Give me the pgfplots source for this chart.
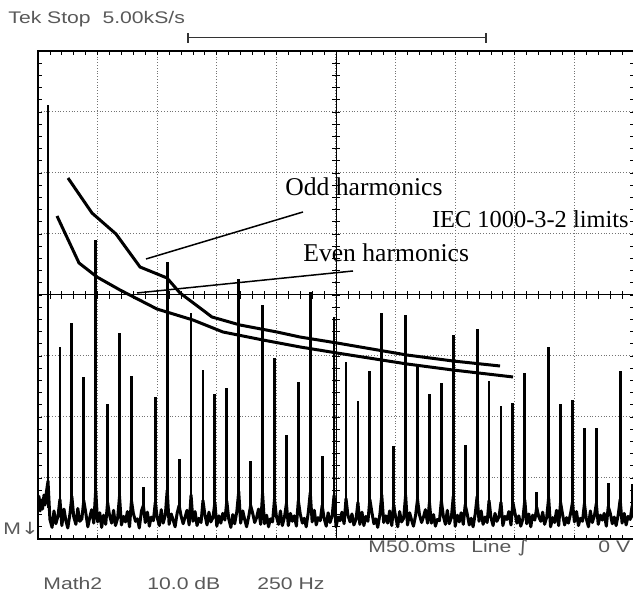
\documentclass[border=0pt]{standalone}
\usepackage{pgfplots}
\pgfplotsset{compat=1.18}
\usepackage{graphicx}
\usepackage{fontspec}
\setmainfont{Liberation Serif}
\newfontfamily\teksf{Liberation Sans}
\newfontfamily\djv{DejaVu Sans}
\newcommand{\tek}[1]{{\teksf\fontsize{8.4}{10}\selectfont\color{black!65}\scalebox{1.26}[1]{#1}}}
\begin{document}
\begin{tikzpicture}
\begin{axis}[
  at={(0pt,0pt)}, anchor=south west,
  scale only axis, width=298pt, height=244pt,
  xmin=8, xmax=2508, ymin=0, ymax=80,
  xtick={8,258,...,2508}, ytick={0,10,...,80},
  minor x tick num=4, minor y tick num=4,
  xticklabels={}, yticklabels={},
  tick align=inside, tick pos=both,
  major tick length=2pt, minor tick length=2pt,
  tick style={black, line width=0.4pt},
  grid=major,
  major grid style={densely dotted, black!55, line width=0.5pt},
  axis line style={black, line width=0.6pt},
  unbounded coords=jump,
]
% odd-harmonic limit curve
\addplot[black, line width=1.5pt] table {
133.8 59.18
234.5 53.44
335.2 50.00
435.9 44.59
549.1 42.79
603.7 40.33
737.9 36.39
855.4 35.08
1010.6 33.93
1107.1 33.11
1262.3 32.13
1358.8 31.48
1555.9 30.16
1748.9 29.18
1946.1 28.36
};
% even-harmonic limit curve
\addplot[black, line width=1.5pt] table {
87.7 52.95
180.0 45.25
255.5 42.95
352.0 40.82
507.2 37.70
658.2 35.90
784.0 33.93
951.8 32.62
1107.1 31.48
1262.3 30.49
1555.9 28.69
1748.9 27.70
2000.6 26.56
};
% noise floor of the spectrum
\addplot[black, line width=1.5pt, line join=round] table {
8 5.5
12 7.0
17 4.6
22 6.4
27 4.9
33 7.2
38 5.6
43 7.6
50 9.5
58 3.2
67 1.9
75 4.6
83 2.5
92 3.8
100 6.5
108 2.2
117 4.9
125 3.0
133 1.8
142 4.1
150 7
158 3.6
167 2.4
175 5.0
183 2.9
192 3.3
200 6.3
208 4.4
217 2.0
225 3.5
233 4.8
242 2.6
250 8
258 2.8
267 4.3
275 1.9
283 3.9
292 2.4
300 6
308 3.9
317 2.6
325 4.7
333 2.2
342 3.4
350 7
358 2.3
367 3.7
375 2.8
383 4.5
392 2.0
400 6.3
408 4.2
417 2.9
425 3.3
433 1.8
442 4.6
450 5.5
458 2.7
467 4.4
475 2.1
483 3.6
492 3.0
500 6
508 3.5
517 2.2
525 4.8
533 2.6
542 3.9
550 8
558 2.4
567 4.1
575 3.1
583 2.0
592 4.3
600 5.5
608 3.8
617 2.5
625 3.6
633 4.7
642 2.3
650 7.2
658 2.9
667 4.5
675 2.2
683 3.4
692 2.7
700 6.3
708 4.0
717 2.3
725 4.4
733 2.8
742 3.5
750 6
758 2.1
767 3.8
775 2.6
783 4.2
792 3.1
800 6.2
808 3.3
817 1.9
825 4.0
833 2.5
842 4.5
850 7.8
858 2.6
867 4.6
875 3.2
883 2.0
892 3.7
900 5.5
908 4.3
917 2.7
925 3.5
933 4.9
942 2.4
950 7.5
958 2.5
967 3.9
975 2.0
983 3.3
992 2.8
1000 6.5
1008 3.7
1017 2.4
1025 4.6
1033 2.2
1042 3.6
1050 5.8
1058 2.2
1067 4.2
1075 2.9
1083 3.8
1092 2.1
1100 6.3
1108 4.1
1117 2.6
1125 3.4
1133 2.0
1142 4.4
1150 7.6
1158 2.8
1167 4.7
1175 2.3
1183 3.5
1192 3.0
1200 5.5
1208 3.4
1217 2.1
1225 4.3
1233 2.7
1242 3.8
1250 7.2
1258 2.0
1267 3.6
1275 3.0
1283 4.4
1292 2.5
1300 6.6
1308 3.9
1317 2.8
1325 4.1
1333 2.3
1342 3.2
1350 6
1358 2.4
1367 4.4
1375 2.2
1383 3.7
1392 2.9
1400 6.5
1408 4.5
1417 2.5
1425 3.3
1433 1.9
1442 4.0
1450 7.2
1458 2.7
1467 3.8
1475 2.6
1483 4.6
1492 2.2
1500 5.6
1508 3.6
1517 2.0
1525 4.5
1533 2.8
1542 3.4
1550 7.2
1558 2.3
1567 4.3
1575 3.1
1583 2.1
1592 3.9
1600 6.5
1608 4.0
1617 2.7
1625 3.6
1633 4.8
1642 2.6
1650 6.0
1658 2.6
1667 4.0
1675 2.1
1683 3.2
1692 3.0
1700 6.3
1708 3.8
1717 2.4
1725 4.7
1733 2.5
1742 3.5
1750 7.0
1758 2.1
1767 3.9
1775 2.8
1783 4.3
1792 2.4
1800 5.6
1808 4.2
1817 2.3
1825 3.4
1833 2.0
1842 4.1
1850 7.0
1858 2.9
1867 4.6
1875 2.4
1883 3.6
1892 2.7
1900 6.3
1908 3.5
1917 2.2
1925 4.2
1933 2.9
1942 3.7
1950 6.0
1958 2.2
1967 3.7
1975 3.2
1983 4.5
1992 2.3
2000 6.0
2008 4.4
2017 2.6
2025 3.8
2033 2.1
2042 3.3
2050 6.4
2058 2.5
2067 4.1
2075 2.0
2083 3.9
2092 3.1
2100 5.2
2108 3.7
2117 2.9
2125 4.4
2133 2.4
2142 3.6
2150 6.8
2158 2.0
2167 3.5
2175 2.7
2183 4.7
2192 2.2
2200 6.0
2208 4.1
2217 2.3
2225 3.5
2233 2.6
2242 4.2
2250 6.0
2258 2.8
2267 4.5
2275 2.2
2283 3.4
2292 2.9
2300 5.8
2308 3.3
2317 2.0
2325 4.6
2333 2.7
2342 3.8
2350 5.8
2358 2.4
2367 3.9
2375 3.1
2383 4.2
2392 2.1
2400 5.3
2408 4.3
2417 2.5
2425 3.6
2433 2.2
2442 4.0
2450 6.5
2458 2.6
2467 4.2
2475 2.3
2483 3.7
2492 3.2
2500 5.4
2508 3.4
};
% harmonic peaks (dB)
\addplot[black, line width=1.4pt] table {
50 5
50 71.15
nan nan
100 5
100 31.48
nan nan
150 5
150 35.41
nan nan
200 5
200 26.56
nan nan
250 5
250 49.02
nan nan
300 5
300 22.13
nan nan
350 5
350 33.77
nan nan
400 5
400 26.72
nan nan
450 5
450 8.52
nan nan
500 5
500 23.28
nan nan
550 5
550 45.41
nan nan
600 5
600 13.11
nan nan
650 5
650 37.05
nan nan
700 5
700 27.70
nan nan
750 5
750 23.77
nan nan
800 5
800 24.75
nan nan
850 5
850 42.62
nan nan
900 5
900 12.79
nan nan
950 5
950 38.36
nan nan
1000 5
1000 29.67
nan nan
1050 5
1050 17.05
nan nan
1100 5
1100 25.74
nan nan
1150 5
1150 40.49
nan nan
1200 5
1200 13.61
nan nan
1250 5
1250 36.39
nan nan
1300 5
1300 29.02
nan nan
1350 5
1350 22.62
nan nan
1400 5
1400 27.54
nan nan
1450 5
1450 37.05
nan nan
1500 5
1500 15.25
nan nan
1550 5
1550 36.72
nan nan
1600 5
1600 28.52
nan nan
1650 5
1650 23.77
nan nan
1700 5
1700 25.57
nan nan
1750 5
1750 33.44
nan nan
1800 5
1800 15.41
nan nan
1850 5
1850 34.43
nan nan
1900 5
1900 25.90
nan nan
1950 5
1950 21.80
nan nan
2000 5
2000 22.30
nan nan
2050 5
2050 27.21
nan nan
2100 5
2100 7.70
nan nan
2150 5
2150 31.48
nan nan
2200 5
2200 22.13
nan nan
2250 5
2250 22.79
nan nan
2300 5
2300 18.20
nan nan
2350 5
2350 18.20
nan nan
2400 5
2400 9.18
nan nan
2450 5
2450 27.54
nan nan
2500 5
2500 9.00
};
\end{axis}
% centre cross of the graticule with its small ticks
\draw[black, line width=0.5pt] (149pt,0pt) -- (149pt,244pt);
\draw[black, line width=0.5pt] (0pt,122pt) -- (298pt,122pt);
\foreach \i in {1,...,49} \draw[black, line width=0.4pt] (\i*5.96pt,120pt) -- (\i*5.96pt,124pt);
\foreach \j in {1,...,39} \draw[black, line width=0.4pt] (147pt,\j*6.1pt) -- (151pt,\j*6.1pt);
% scope header
\node[anchor=base west, inner sep=0] at (-15pt,257.5pt) {\tek{Tek Stop\ \ 5.00kS/s}};
\draw[black!80, line width=0.5pt] (75pt,250.5pt) -- (224pt,250.5pt);
\draw[black!80, line width=0.6pt] (75pt,248pt) -- (75pt,253pt);
\draw[black!80, line width=0.6pt] (224pt,248pt) -- (224pt,253pt);
% scope footer
\node[anchor=base west, inner sep=0] at (-17.5pt,2pt) {\tek{M{\djv\char"2193}}};
\node[anchor=base west, inner sep=0] at (165pt,-7pt) {\tek{M50.0ms}};
\node[anchor=base west, inner sep=0] at (216.5pt,-7pt) {\tek{Line {\djv\char"222B}}};
\node[anchor=base west, inner sep=0] at (280pt,-7pt) {\tek{0 V}};
\node[anchor=base west, inner sep=0] at (2.5pt,-25.5pt) {\tek{Math2}};
\node[anchor=base west, inner sep=0] at (54.5pt,-25.5pt) {\tek{10.0 dB}};
\node[anchor=base west, inner sep=0] at (109.5pt,-25.5pt) {\tek{250 Hz}};
% annotations
\node[anchor=base west, inner sep=0, font=\fontsize{12.8}{14}\selectfont] at (123.5pt,171.5pt) {Odd harmonics};
\node[anchor=base east, inner sep=0, font=\fontsize{12.2}{14}\selectfont] at (295.5pt,155.5pt) {IEC 1000-3-2 limits};
\node[anchor=base west, inner sep=0, font=\fontsize{12.8}{14}\selectfont] at (132.5pt,138.5pt) {Even harmonics};
\draw[black, line width=0.75pt] (54pt,140pt) -- (132.5pt,163.5pt);
\draw[black, line width=0.75pt] (49.5pt,123pt) -- (157.5pt,134pt);
\pgfresetboundingbox
\useasboundingbox (-19pt,-29pt) rectangle (297.5pt,269.5pt);
\end{tikzpicture}
\end{document}
